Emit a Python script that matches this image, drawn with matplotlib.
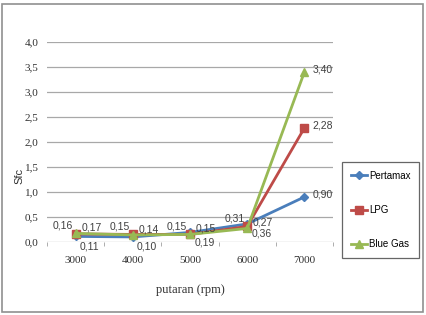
import numpy as np
from matplotlib import pyplot as plt
from matplotlib.ticker import FuncFormatter
from matplotlib.patches import Rectangle

# Data
rpm = ['3000', '4000', '5000', '6000', '7000']
pertamax = [0.11, 0.10, 0.19, 0.36, 0.90]
lpg = [0.16, 0.15, 0.15, 0.31, 2.28]
blue_gas = [0.17, 0.14, 0.15, 0.27, 3.40]

series = [('Pertamax', pertamax, '#4A7EBB', 'D', 4),
          ('LPG', lpg, '#BE4B48', 's', 6),
          ('Blue Gas', blue_gas, '#98B954', '^', 6)]

# label offsets (points) for each series
offsets = {'Pertamax': (3, -7, 'left'), 'LPG': (-2, 6, 'right'), 'Blue Gas': (4, 4, 'left')}
offsets_last = (6, 2, 'left')

fig = plt.figure(figsize=(4.27, 3.15), dpi=100)
ax = fig.add_axes([0.110, 0.232, 0.670, 0.635])

x = np.arange(len(rpm))
for name, vals, col, mk, ms in series:
    ax.plot(x, vals, color=col, marker=mk, markersize=ms, linewidth=2, label=name)
    for i, v in enumerate(vals):
        dx, dy, ha = offsets[name] if i < len(vals) - 1 else offsets_last
        ax.annotate(('%.2f' % v).replace('.', ','), (x[i], v), xytext=(dx, dy),
                    textcoords='offset points', ha=ha, va='center',
                    fontsize=7.5, color='#404040', family='Liberation Sans')

ax.set_xlim(-0.5, len(rpm) - 0.5)
ax.set_ylim(0, 4.0)
ax.set_yticks(np.arange(0, 4.01, 0.5))
ax.yaxis.set_major_formatter(FuncFormatter(lambda v, p: ('%.1f' % v).replace('.', ',')))
ax.set_xticks(x)
ax.set_xticklabels(rpm)
ax.set_xticks(np.arange(-0.5, len(rpm), 1), minor=True)
ax.tick_params(axis='x', which='major', length=0, pad=10)
ax.tick_params(axis='x', which='minor', length=3, color='#a0a0a0', direction='out')
ax.tick_params(axis='y', length=0, pad=6)
for lab in ax.get_xticklabels() + ax.get_yticklabels():
    lab.set_family('Liberation Serif')
    lab.set_fontsize(8)
    lab.set_color('#303030')

ax.grid(axis='y', color='#a8a8a8', linewidth=0.9)
ax.set_axisbelow(True)
for s in ax.spines.values():
    s.set_visible(False)

ax.set_ylabel('Sfc', family='Liberation Sans', fontsize=8, color='#303030')
ax.yaxis.set_label_coords(-0.08, 0.33)
ax.set_xlabel('putaran (rpm)', family='Liberation Serif', fontsize=9, color='#303030', labelpad=14)

leg = fig.legend(loc='upper left', bbox_to_anchor=(0.801, 0.486), frameon=True, fancybox=False,
                 prop={'family': 'Liberation Sans', 'size': 7}, labelspacing=2.5,
                 handlelength=1.7, handletextpad=0.2, borderpad=0.9, borderaxespad=0)
leg.get_frame().set_edgecolor('#404040')
leg.get_frame().set_linewidth(0.9)

# outer chart border
fig.patches.append(Rectangle((0.004, 0.01), 0.987, 0.977, transform=fig.transFigure,
                             fill=False, edgecolor='#909090', linewidth=1.2))

fig.savefig('out.png', dpi=100)
